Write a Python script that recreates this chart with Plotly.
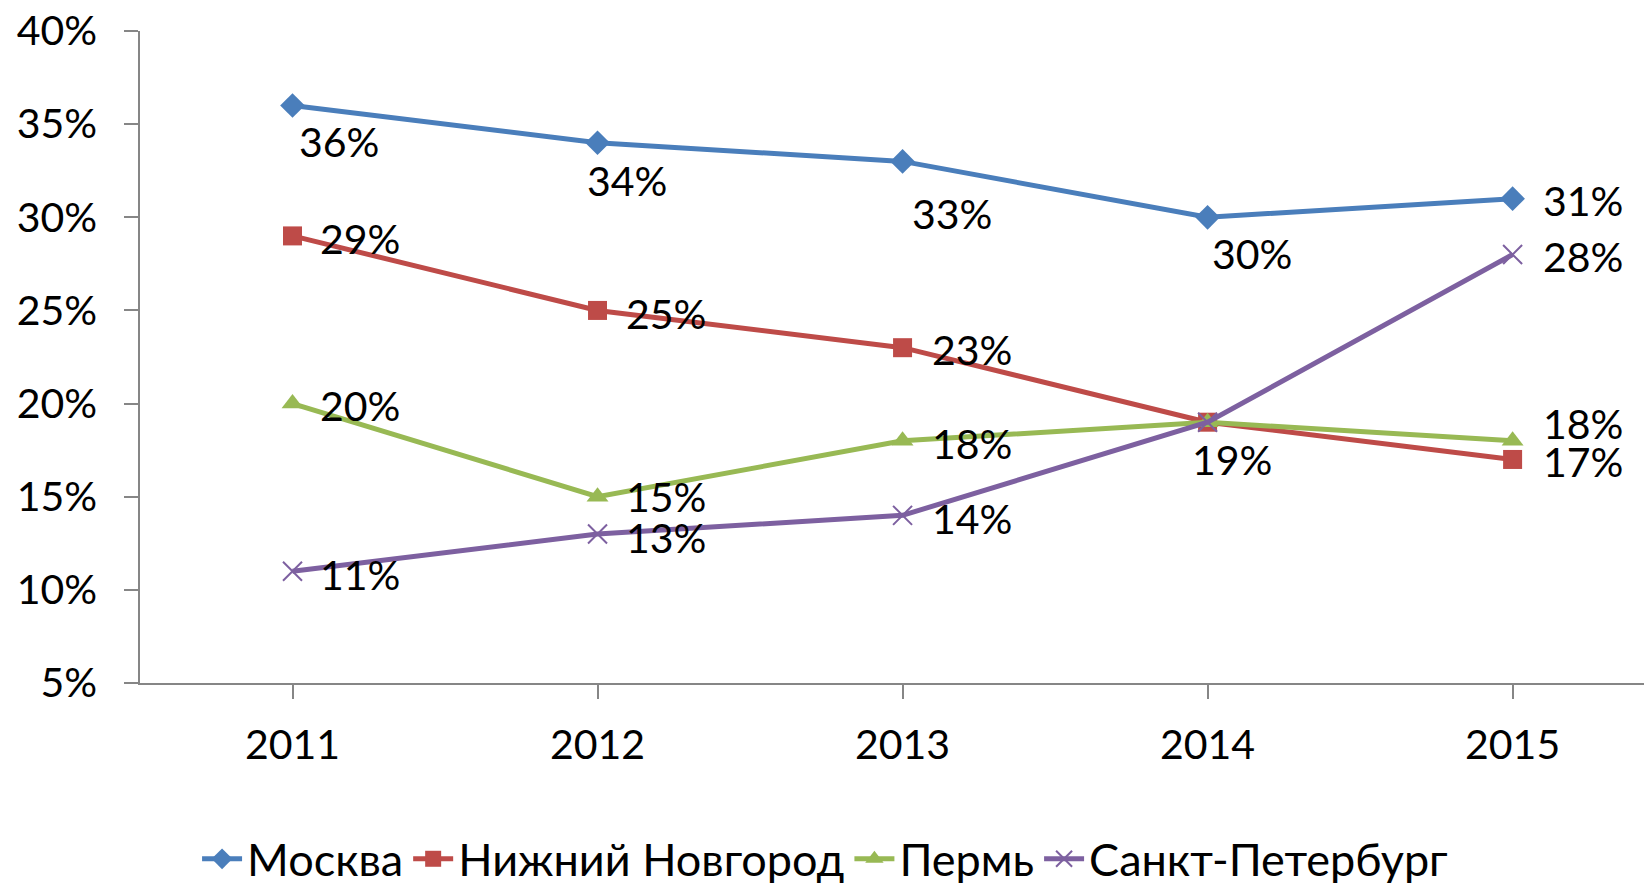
import plotly.graph_objects as go

years = ["2011", "2012", "2013", "2014", "2015"]
moskva = [36, 34, 33, 30, 31]
nizhny = [29, 25, 23, 19, 17]
perm = [20, 15, 18, 19, 18]
spb = [11, 13, 14, 19, 28]
y_ticks = [5, 10, 15, 20, 25, 30, 35, 40]

FONT = "Lato"
FS = 41

# label offsets (dx, dy) in px relative to each point; None = label hidden
series = [
    ("Москва", moskva, "#4A7EBB", "diamond",
     [(4, 36), (-13, 38), (7, 52), (2, 36), (28, 2)]),
    ("Нижний Новгород", nizhny, "#BE4B48", "square",
     [(25, 3), (26, 3), (27, 2), (-18, 37), (28, 2)]),
    ("Пермь", perm, "#98B954", "triangle-up",
     [(25, 2), (26, 0), (27, 3), None, (28, -17)]),
    ("Санкт-Петербург", spb, "#7D60A0", "x-thin-open",
     [(25, 3), (26, 4), (27, 3), None, (28, 2)]),
]

fig = go.Figure()
annotations = []
for name, vals, color, sym, offs in series:
    xs = list(range(len(years)))
    fig.add_trace(go.Scatter(
        x=xs, y=vals, name=name,
        mode="lines+markers",
        line=dict(color=color, width=5),
        marker=dict(symbol=sym, size=19, color=color,
                    line=dict(color=color, width=2 if sym == "x-thin-open" else 0)),
        cliponaxis=False,
    ))
    for x, v, off in zip(xs, vals, offs):
        if off is None:
            continue
        annotations.append(dict(
            x=x, y=v, xref="x", yref="y", text=f"{v}%", showarrow=False,
            xanchor="left", yanchor="middle", xshift=off[0], yshift=-off[1],
            font=dict(family=FONT, size=FS, color="black"),
        ))

# the page body adds an 8px offset, so the figure is sized to fill the rest
fig.update_layout(
    width=1644, height=875,
    margin=dict(l=132, r=0, t=23, b=200, autoexpand=False),
    paper_bgcolor="white", plot_bgcolor="white",
    font=dict(family=FONT, size=FS, color="black"),
    showlegend=True,
    annotations=annotations,
    legend=dict(orientation="h", xref="container", yref="container",
                x=0.497, xanchor="center", y=0.0274, yanchor="middle",
                font=dict(family=FONT, size=45, color="black"),
                itemwidth=40, tracegroupgap=0),
)
fig.update_xaxes(
    range=[-0.5, 4.457], automargin=False,
    tickmode="array", tickvals=list(range(len(years))), ticktext=years,
    ticks="outside", ticklen=14, tickcolor="#868686", tickwidth=1.5,
    tickson="boundaries",
    showline=True, linecolor="#868686", linewidth=1.5,
    showgrid=False, zeroline=False,
    ticklabelstandoff=11, ticklabeloverflow="allow",
    tickfont=dict(family=FONT, size=FS, color="black"),
)
fig.update_yaxes(
    range=[5, 40], automargin=False,
    tickmode="array", tickvals=y_ticks, ticktext=[f"{v}%" for v in y_ticks],
    ticks="outside", ticklen=14, tickcolor="#868686", tickwidth=1.5,
    showline=True, linecolor="#868686", linewidth=1.5,
    showgrid=False, zeroline=False,
    ticklabelstandoff=19, ticklabeloverflow="allow",
    tickfont=dict(family=FONT, size=FS, color="black"),
)

fig.write_html("out.html")
